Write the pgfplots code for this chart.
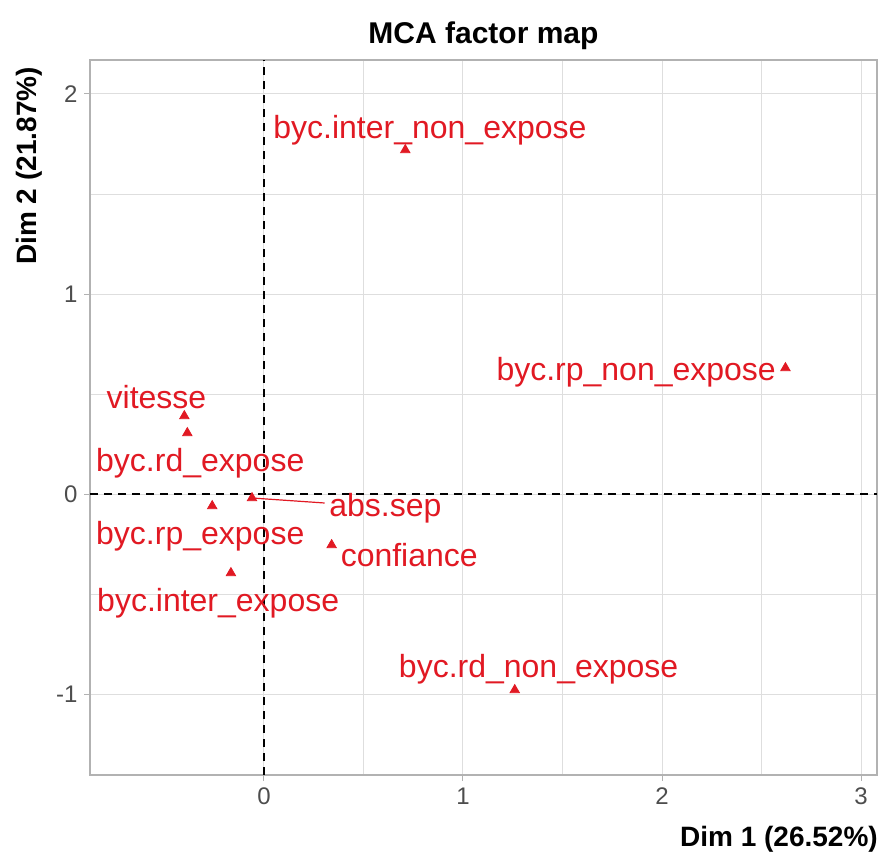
\documentclass[border=0pt]{standalone}
\usepackage{pgfplots}
\pgfplotsset{compat=1.18}
\usepackage{fontspec}
\setmainfont{Liberation Sans}
\definecolor{varred}{RGB}{225,25,35}
\definecolor{gridgray}{RGB}{222,222,222}
\definecolor{framegray}{RGB}{178,178,178}
\definecolor{ticktext}{RGB}{77,77,77}
\begin{document}
\begin{tikzpicture}
\begin{axis}[
  name=ax,
  scale only axis,
  width=393.5pt, height=357.5pt,
  xmin=-0.874, xmax=3.08,
  ymin=-1.405, ymax=2.17,
  xtick={0,1,2,3}, ytick={-1,0,1,2},
  minor x tick num=1, minor y tick num=1,
  grid=both,
  major grid style={gridgray, line width=0.5pt},
  minor grid style={gridgray, line width=0.5pt},
  axis line style={framegray, line width=0.6pt},
  tick pos=left,
  tick align=outside,
  major tick length=2.75pt, minor tick length=0pt,
  tick style={framegray, line width=0.5pt},
  /pgf/number format/assume math mode=true,
  ticklabel style={font=\fontsize{12}{14}\selectfont, text=ticktext},
  title={\textbf{MCA factor map}},
  title style={at={(axis description cs:0.5,1.0168)}, anchor=center,
    font=\fontsize{15}{18}\selectfont},
  xlabel={\textbf{Dim 1 (26.52\%)}},
  xlabel style={at={(axis description cs:1.01,-0.0993)}, anchor=base east,
    font=\fontsize{14}{16}\selectfont},
  ylabel={\textbf{Dim 2 (21.87\%)}},
  ylabel style={at={(axis description cs:-0.0674,1)}, anchor=base east,
    font=\fontsize{14}{16}\selectfont},
  clip=false,
]
% reference lines through the origin
\addplot[black, line width=0.6pt, dash pattern=on 4pt off 3pt] coordinates {(0,-1.405) (0,2.17)};
\addplot[black, line width=0.6pt, dash pattern=on 4pt off 3pt] coordinates {(-0.874,0) (3.08,0)};
% leader line for abs.sep
\addplot[varred, line width=0.6pt] coordinates {(-0.06,-0.02) (0.305,-0.045)};
% category coordinates
\addplot[only marks, mark=triangle*, mark size=2.7pt, varred] coordinates {
  (0.71,1.72)    % byc.inter_non_expose
  (2.62,0.63)    % byc.rp_non_expose
  (-0.40,0.39)   % vitesse
  (-0.385,0.305) % byc.rd_expose
  (-0.26,-0.06)  % byc.rp_expose
  (-0.06,-0.02)  % abs.sep
  (0.34,-0.255)  % confiance
  (-0.166,-0.395)% byc.inter_expose
  (1.26,-0.98)   % byc.rd_non_expose
};
\begin{scope}[every node/.style={text=varred, font=\fontsize{16}{18}\selectfont, inner sep=0pt}]
\node at (axis cs:0.834,1.82) {byc.inter\_non\_expose};
\node at (axis cs:1.87,0.61) {byc.rp\_non\_expose};
\node at (axis cs:-0.54,0.485) {vitesse};
\node at (axis cs:-0.32,0.155) {byc.rd\_expose};
\node at (axis cs:-0.32,-0.21) {byc.rp\_expose};
\node at (axis cs:0.61,-0.07) {abs.sep};
\node at (axis cs:0.73,-0.305) {confiance};
\node at (axis cs:-0.23,-0.545) {byc.inter\_expose};
\node at (axis cs:1.38,-0.875) {byc.rd\_non\_expose};
\end{scope}
\end{axis}
\path[use as bounding box] ([shift={(-45pt,-39.5pt)}]ax.south west) rectangle ([shift={(4pt,30pt)}]ax.north east);
\end{tikzpicture}
\end{document}
